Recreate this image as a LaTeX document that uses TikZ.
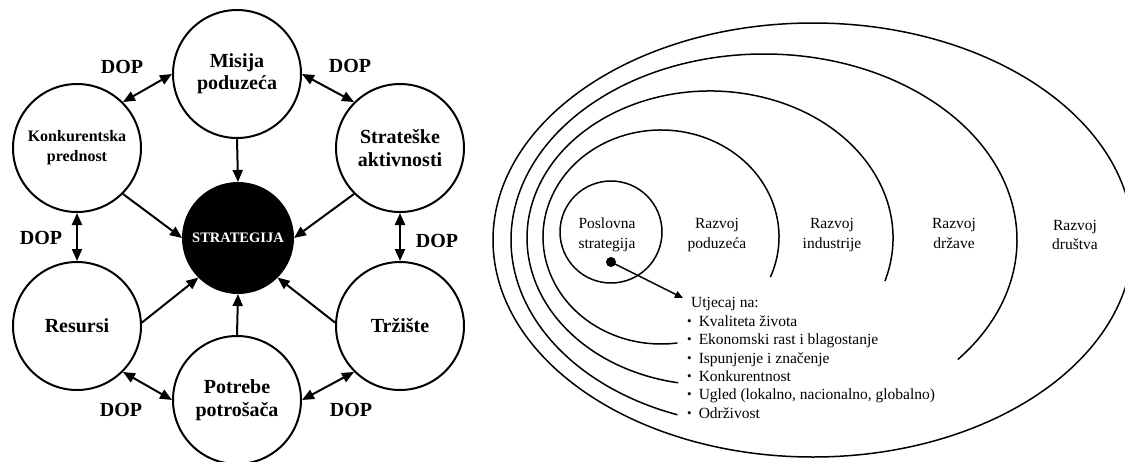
\documentclass[tikz,border=0pt]{standalone}
\usepackage{fontspec}
\setmainfont{Liberation Serif}
\usetikzlibrary{arrows.meta}
\newcommand{\mybul}{{\fontsize{13}{13}\selectfont\raisebox{0.3pt}{•}}\hspace{7pt}}
\begin{document}
\begin{tikzpicture}[x=1pt,y=1pt,
  bigc/.style={circle, draw, line width=2pt, minimum size=128pt, inner sep=0pt, align=center,
    font=\fontsize{20}{22}\selectfont\bfseries},
  dop/.style={inner sep=0pt, font=\fontsize{20}{22}\selectfont\bfseries},
  conn/.style={line width=2pt, -{Triangle[length=12pt,width=10pt]}},
  dconn/.style={line width=2pt, {Triangle[length=12pt,width=10pt]}-{Triangle[length=12pt,width=10pt]}},
  ring/.style={line width=1.5pt},
  lbl/.style={align=center, inner sep=0pt, font=\fontsize{15.5}{19.5}\selectfont},
  item/.style={anchor=base west, inner sep=0pt, font=\fontsize{15.5}{18.5}\selectfont},
]
\useasboundingbox (0,0) rectangle (1125,-461);
\fill[white] (0,0) rectangle (1125,-461);
\clip (0,0) rectangle (1125,-461);

% ---------- left diagram ----------
\node[bigc] (mis) at (237,-74) {Misija\\poduzeća};
\node[bigc, font=\fontsize{16}{20}\selectfont\bfseries] (kon) at (77,-148) {Konkurentska\\prednost};
\node[bigc, font=\fontsize{20}{23}\selectfont\bfseries] (str) at (400,-148) {Strateške\\aktivnosti};
\node[bigc] (res) at (77,-326) {Resursi};
\node[bigc] (trz) at (400,-326) {Tržište};
\node[bigc, font=\fontsize{20}{23}\selectfont\bfseries] (pot) at (237,-400) {Potrebe\\potrošača};
\node[circle, draw, fill=black, line width=2pt, minimum size=110pt, inner sep=0pt, text=white,
  font=\fontsize{14.5}{16}\selectfont\bfseries] (stg) at (238,-238) {STRATEGIJA};

\draw[dconn] (kon.45) -- (mis.180);
\draw[dconn] (mis.0) -- (str.135);
\draw[dconn] (kon.south) -- (res.north);
\draw[dconn] (str.south) -- (trz.north);
\draw[dconn] (res.-45) -- (pot.180);
\draw[dconn] (trz.-135) -- (pot.0);

\draw[conn] (mis.south) -- (stg.north);
\draw[conn] (kon.-45) -- (stg.180);
\draw[conn] (str.-135) -- (stg.0);
\draw[conn] (res.3) -- (stg.-135);
\draw[conn] (trz.177) -- (stg.-45);
\draw[conn] (pot.north) -- (stg.south);

\node[dop] (d1) at (122,-67) {DOP};
\node[dop] (d2) at (350,-66) {DOP};
\node[dop] (d3) at (41,-238) {DOP};
\node[dop] (d4) at (437,-241) {DOP};
\node[dop] (d5) at (121,-410) {DOP};
\node[dop] (d6) at (351,-410) {DOP};

% ---------- right diagram ----------
\draw[ring] (813,-240) ellipse [x radius=320, y radius=217];
\draw[ring, shift={(764,-240)}] (-40:253 and 186) arc[start angle=-40, end angle=250, x radius=253, y radius=186];
\draw[ring, shift={(710,-238)}] (-17:183 and 147) arc[start angle=-17, end angle=260, x radius=183, y radius=147];
\draw[ring, shift={(661,-237)}] (-22:118 and 107) arc[start angle=-22, end angle=278, x radius=118, y radius=107];
\node[circle, draw, ring, minimum size=102pt, inner sep=0pt] (ps) at (611,-232) {};

\node[lbl] (pst) at (607,-235) {Poslovna\\strategija};
\node[lbl] (rp) at (717,-235) {Razvoj\\poduzeća};
\node[lbl] (ri) at (832,-235) {Razvoj\\industrije};
\node[lbl] (rd) at (954,-233.5) {Razvoj\\države};
\node[lbl] (rs) at (1075,-235) {Razvoj\\društva};

\node[circle, fill=black, inner sep=0pt, minimum size=10pt] (dot) at (611,-262) {};
\coordinate (tip) at (683,-298);
\draw[line width=1.5pt, -{Triangle[length=8pt,width=7pt]}] (dot.center) -- (tip);

\node[item] (ut) at (691,-307) {Utjecaj na:};
\node[item] (i1) at (687,-326) {\mybul Kvaliteta života};
\node[item] (i2) at (687,-344) {\mybul Ekonomski rast i blagostanje};
\node[item] (i3) at (687,-363) {\mybul Ispunjenje i značenje};
\node[item] (i4) at (687,-381) {\mybul Konkurentnost};
\node[item] (i5) at (687,-399) {\mybul Ugled (lokalno, nacionalno, globalno)};
\node[item] (i6) at (687,-418) {\mybul Održivost};
\end{tikzpicture}
\end{document}
